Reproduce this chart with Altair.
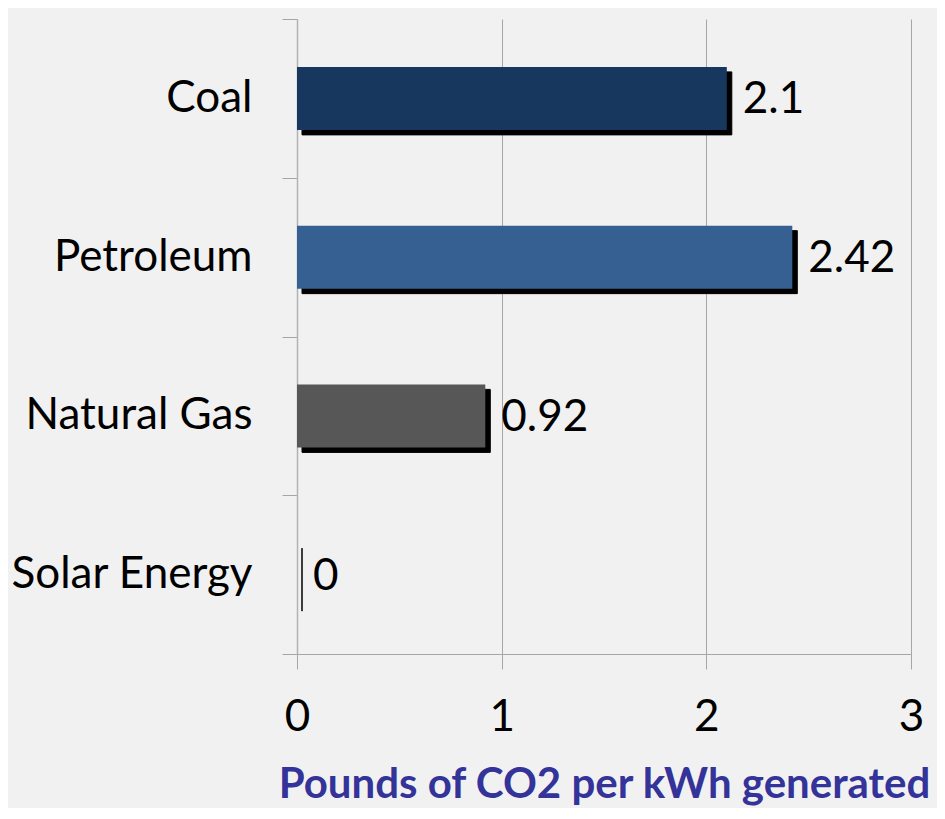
import altair as alt
import pandas as pd

categories = ["Coal", "Petroleum", "Natural Gas", "Solar Energy"]
values = [2.1, 2.42, 0.92, 0]
colors = ["#17375e", "#366092", "#575757", "#575757"]
x_ticks = [0, 1, 2, 3]
axis_title = "Pounds of CO2 per kWh generated"

df = pd.DataFrame({"cat": categories, "val": values, "col": colors})
df["label"] = [("%g" % v) for v in values]

FONT = "Lato"

y_enc = alt.Y("cat:N", sort=categories, scale=alt.Scale(paddingInner=0, paddingOuter=0),
              axis=alt.Axis(title=None, tickBand="extent", labelFont=FONT, labelFontSize=44,
                            labelColor="#000000", labelPadding=30, tickSize=15, labelLimit=400,
                            tickColor="#a6a6a6", domainColor="#b3b3b3", domainWidth=1.5,
                            grid=False))
x_enc = alt.X("val:Q", scale=alt.Scale(domain=[0, 3], nice=False),
              axis=alt.Axis(values=x_ticks, title=axis_title, format="d", labelFlush=False,
                            labelFont=FONT, labelFontSize=44, labelColor="#000000",
                            labelPadding=26, tickSize=15, tickColor="#a6a6a6",
                            domainColor="#a6a6a6", gridColor="#a6a6a6", grid=True,
                            titleFont=FONT, titleFontSize=42, titleFontWeight="bold",
                            titleColor="#333399", titlePadding=25, titleLimit=900))

base = alt.Chart(df)

shadow = base.mark_bar(size=63, color="#000000", stroke="#000000", strokeWidth=1,
                       xOffset=5, x2Offset=5, yOffset=5, y2Offset=5).encode(x=x_enc, y=y_enc)
bars = base.mark_bar(size=63).encode(x=x_enc, y=y_enc,
                                       color=alt.Color("col:N", scale=None))
text = base.mark_text(align="left", baseline="middle", dx=16, dy=2, font=FONT,
                      fontSize=44, color="#000000").encode(x=x_enc, y=y_enc, text="label:N")

chart = alt.layer(shadow, bars, text).properties(
    width=614, height=635,
    autosize=alt.AutoSizeParams(type="none"),
    padding={"left": 289, "top": 11, "right": 26, "bottom": 154},
    background="#f1f1f1",
).configure_view(stroke=None)

chart.save("out.html", embed_options={"renderer": "svg", "actions": False})
